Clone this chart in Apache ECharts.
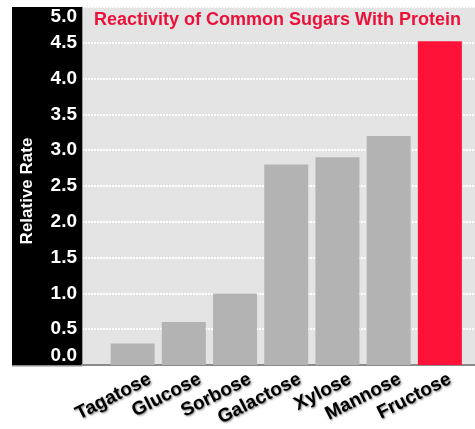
<!DOCTYPE html>
<html>
<head>
<meta charset="utf-8">
<script src="https://cdn.jsdelivr.net/npm/echarts@6/dist/echarts.min.js"></script>
<style>
  html, body { margin: 0; padding: 0; background: #fff; }
  #chart { width: 475px; height: 429px; }
</style>
</head>
<body>
<div id="chart"></div>
<script>
const sugars = ['Tagatose', 'Glucose', 'Sorbose', 'Galactose', 'Xylose', 'Mannose', 'Fructose'];
const relativeRate = [0.3, 0.6, 1.0, 2.8, 2.9, 3.2, 4.52];
const highlighted = 'Fructose';

const font = 'Liberation Sans, Arial, Helvetica, sans-serif';
const plotTop = 7;
const plotBottom = 64;
const barsLeft = 107;
const barsWidth = 358.5;

const chart = echarts.init(document.getElementById('chart'), null, { renderer: 'canvas' });

chart.setOption({
  animation: false,
  backgroundColor: '#fff',
  title: {
    text: 'Reactivity of Common Sugars With Protein',
    left: 94,
    top: 11,
    padding: 0,
    textStyle: { color: '#ea123a', fontSize: 18, fontWeight: 'bold', fontFamily: font },
  },
  graphic: {
    elements: [
      // black band behind the y axis labels
      { type: 'rect', z: -10, shape: { x: 12, y: plotTop, width: 70, height: 429 - plotBottom - plotTop }, style: { fill: '#000' } },
      { type: 'rect', z: -10, shape: { x: 12, y: 429 - plotBottom, width: 70, height: 1.5 }, style: { fill: '#8a8a8a' } },
    ],
  },
  grid: [
    { left: 82, right: 0, top: plotTop, bottom: plotBottom, show: true, backgroundColor: '#e4e4e4', borderWidth: 0 },
    { left: barsLeft, width: barsWidth, top: plotTop, bottom: plotBottom },
    // labels sit a little to the right of the bars in the original
    { left: barsLeft + 18, width: barsWidth, top: plotTop, bottom: plotBottom },
  ],
  xAxis: [
    {
      gridIndex: 0,
      type: 'value',
      min: 0,
      max: 1,
      axisLine: { show: true, lineStyle: { color: '#8a8a8a', width: 2 } },
      axisTick: { show: false },
      axisLabel: { show: false },
      splitLine: { show: false },
    },
    {
      gridIndex: 1,
      type: 'category',
      data: sugars,
      show: false,
    },
    {
      gridIndex: 2,
      type: 'category',
      data: sugars,
      axisLine: { show: false },
      axisTick: { show: false },
      axisLabel: {
        interval: 0,
        rotate: 27,
        margin: 13,
        color: '#000',
        fontSize: 19,
        fontWeight: 'bold',
        fontFamily: font,
        textShadowColor: 'rgba(0,0,0,0.5)',
        textShadowBlur: 2,
        textShadowOffsetX: 1,
        textShadowOffsetY: 1,
      },
    },
  ],
  yAxis: [
    {
      gridIndex: 0,
      type: 'value',
      min: 0,
      max: 5,
      interval: 0.5,
      name: 'Relative Rate',
      nameLocation: 'middle',
      nameGap: 46,
      nameTextStyle: { color: '#fff', fontSize: 17, fontWeight: 'bold', fontFamily: font, padding: [0, 10, 0, 0] },
      axisLine: { show: true, lineStyle: { color: '#9a9a9a', width: 1 } },
      axisTick: { show: false },
      axisLabel: {
        color: '#fff',
        fontSize: 19,
        fontWeight: 'bold',
        fontFamily: font,
        margin: 5,
        formatter: v => v.toFixed(1),
        verticalAlignMinLabel: 'bottom',
        verticalAlignMaxLabel: 'top',
      },
      splitLine: { show: true, lineStyle: { color: '#fff', width: 2, type: [2, 1] } },
    },
    { gridIndex: 1, type: 'value', min: 0, max: 5, show: false },
    { gridIndex: 2, type: 'value', min: 0, max: 5, show: false },
  ],
  series: [
    {
      type: 'bar',
      xAxisIndex: 1,
      yAxisIndex: 1,
      barWidth: 44,
      data: relativeRate.map((v, i) => ({
        value: v,
        itemStyle: { color: sugars[i] === highlighted ? '#ff1238' : '#b3b3b3' },
      })),
    },
  ],
});
</script>
</body>
</html>
